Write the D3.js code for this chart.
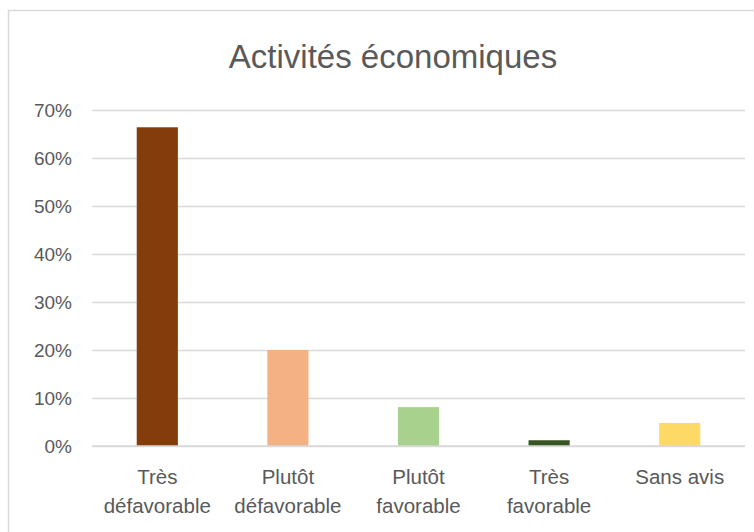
<!DOCTYPE html>
<html>
<head>
<meta charset="utf-8">
<script src="https://cdn.jsdelivr.net/npm/d3@7"></script>
<style>
  body { margin: 0; background: #fff; }
  svg text { font-family: "Liberation Sans", "DejaVu Sans", sans-serif; fill: #595959; }
</style>
</head>
<body>
<svg id="chart" width="754" height="532"></svg>
<script>
// chart data
const categories = [["Très", "défavorable"], ["Plutôt", "défavorable"], ["Plutôt", "favorable"], ["Très", "favorable"], ["Sans avis"]];
const values = [0.664, 0.20, 0.081, 0.012, 0.048];
const colors = ["#843C0C", "#F4B183", "#A9D18E", "#375623", "#FFD966"];
const yTicks = [0, 0.1, 0.2, 0.3, 0.4, 0.5, 0.6, 0.7];
const title = "Activités économiques";

const svg = d3.select("#chart");
const width = 754, height = 532;

// outer chart border
svg.append("rect")
  .attr("x", 8.5).attr("y", 10.5)
  .attr("width", width + 20).attr("height", height + 20)
  .attr("fill", "#fff")
  .attr("stroke", "#d9d9d9")
  .attr("stroke-width", 1.5);

const margin = {left: 92, right: 9, top: 110, bottom: 86};

const x = d3.scaleBand()
  .domain(d3.range(categories.length))
  .range([margin.left, width - margin.right])
  .paddingInner(0.685)
  .paddingOuter(0.3425);

const y = d3.scaleLinear()
  .domain([0, 0.7])
  .range([height - margin.bottom, margin.top]);

/** Title
------------------------------------------------------------*/
svg.append("text")
  .attr("x", 393)
  .attr("y", 68)
  .attr("text-anchor", "middle")
  .attr("font-size", 33)
  .text(title);

/** Grid + y axis
------------------------------------------------------------*/
const yAxis = svg.append("g")
  .attr("transform", `translate(${margin.left},0)`)
  .call(d3.axisLeft(y)
    .tickValues(yTicks)
    .tickFormat(d3.format(".0%"))
    .tickSize(-(width - margin.left - margin.right))
    .tickPadding(20));

yAxis.select(".domain").remove();
yAxis.selectAll(".tick line")
  .attr("stroke", "#d9d9d9")
  .attr("stroke-width", 1.5);
yAxis.selectAll(".tick text")
  .attr("font-size", 19)
  .attr("fill", "#595959");

/** Bars
------------------------------------------------------------*/
svg.append("g")
  .selectAll("rect")
  .data(values)
  .enter().append("rect")
  .attr("x", (d, i) => x(i))
  .attr("width", x.bandwidth())
  .attr("y", d => y(d))
  .attr("height", d => y(0) - y(d))
  .attr("fill", (d, i) => colors[i]);

// redraw baseline above bars
svg.append("line")
  .attr("x1", margin.left).attr("x2", width - margin.right)
  .attr("y1", y(0)).attr("y2", y(0))
  .attr("stroke", "#d9d9d9")
  .attr("stroke-width", 1.5);

/** Category labels
------------------------------------------------------------*/
svg.append("g")
  .selectAll("text")
  .data(categories)
  .enter().append("text")
  .attr("text-anchor", "middle")
  .attr("font-size", 20.5)
  .each(function (lines, i) {
    const t = d3.select(this);
    lines.forEach((line, j) => {
      t.append("tspan")
        .attr("x", x(i) + x.bandwidth() / 2)
        .attr("y", y(0) + 38 + j * 29)
        .text(line);
    });
  });
</script>
</body>
</html>
